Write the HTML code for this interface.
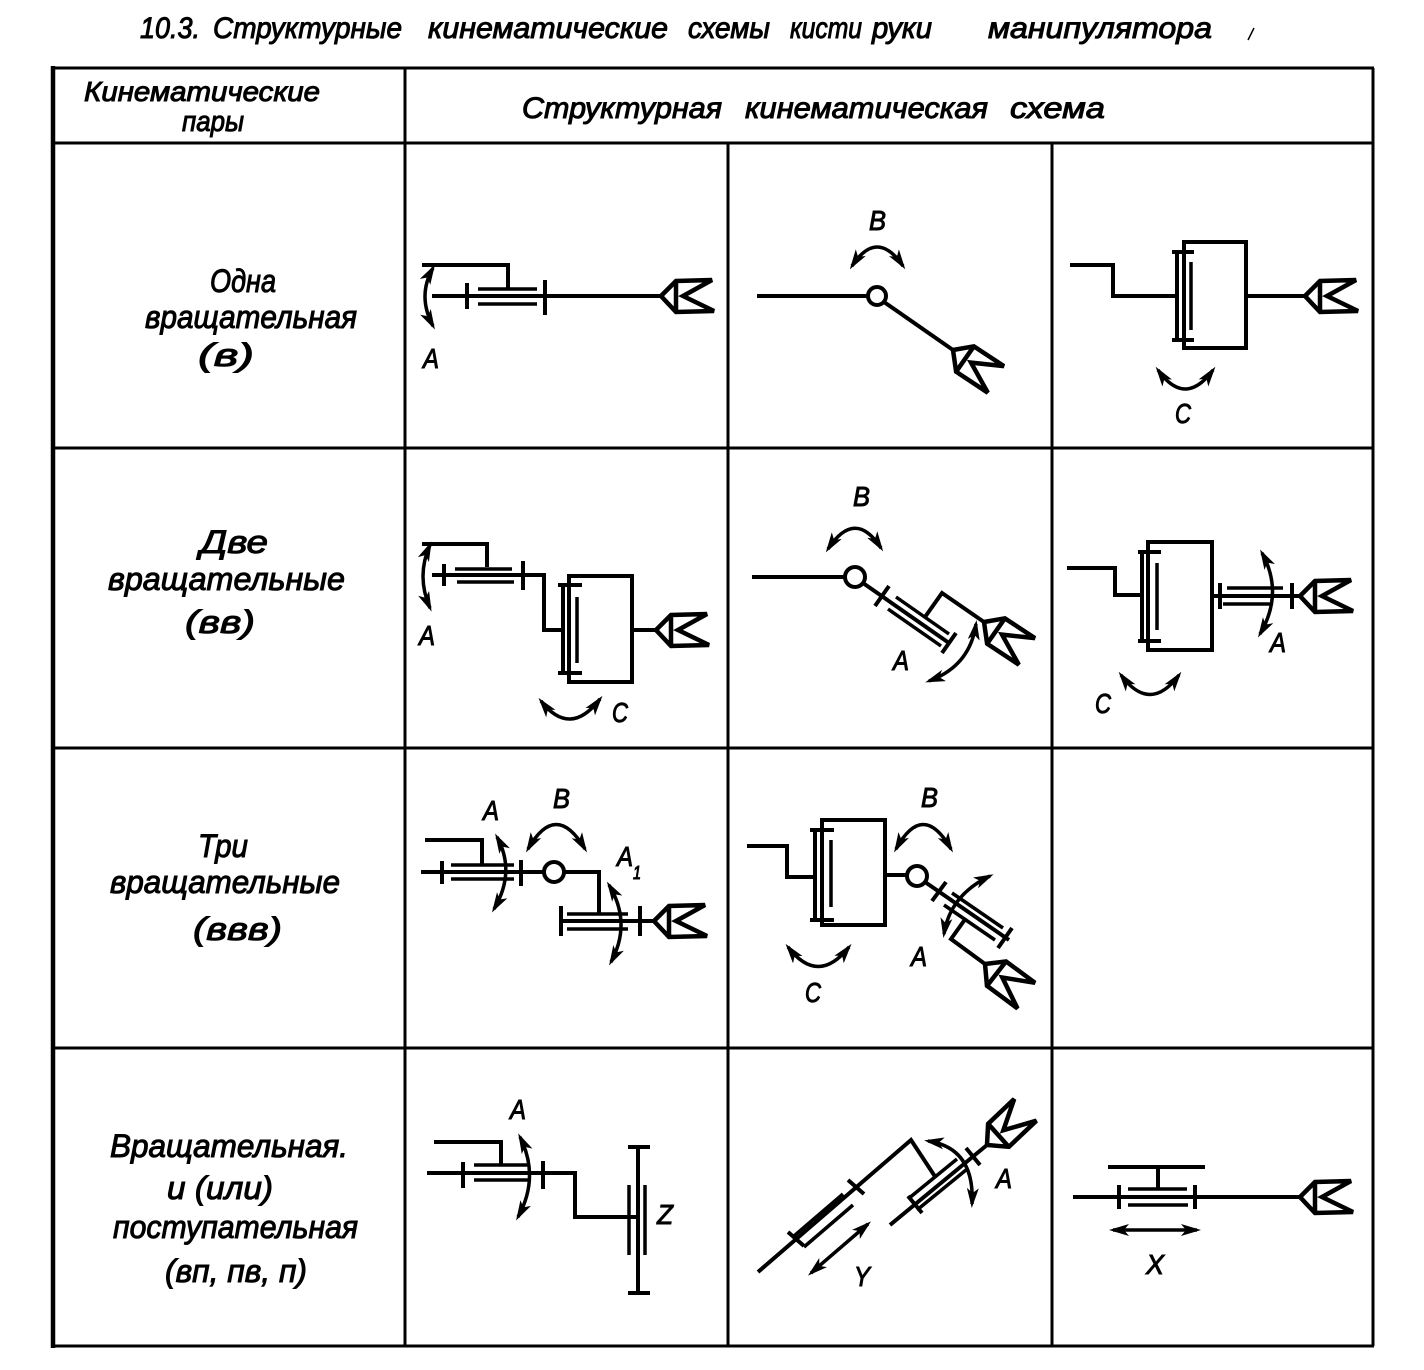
<!DOCTYPE html>
<html><head><meta charset="utf-8"><style>
html,body{margin:0;padding:0;background:#fff}
svg{display:block}
text{font-family:"Liberation Sans","Noto Sans CJK SC",sans-serif;font-style:italic;fill:#000;stroke:#000;stroke-width:1}
.t{stroke:#000;stroke-width:3;fill:none}
.m{stroke:#000;stroke-width:4;fill:none}
.s{stroke:#000;stroke-width:3.5;fill:none}
.a{stroke:#000;stroke-width:3.5;fill:none;marker-start:url(#ah);marker-end:url(#ah)}
.c{stroke:#000;stroke-width:4;fill:#fff}
.l{font-size:28px}
.r{font-size:32px}
</style></head><body>
<svg width="1424" height="1370" viewBox="0 0 1424 1370" xmlns="http://www.w3.org/2000/svg">
<defs>
<marker id="ah" viewBox="0 0 20 12" refX="16" refY="6" markerWidth="20" markerHeight="12" markerUnits="userSpaceOnUse" orient="auto-start-reverse">
<path d="M0,0 L20,6 L0,12 L5,6 Z" fill="#000"/>
</marker>
<g id="gr"><path d="M0,0 L15,-15 L51,-16 L22,0 L53,15 L15,16 Z M15,-15 L15,16" fill="none" stroke="#000" stroke-width="4.5" stroke-linejoin="miter"/></g>
</defs>
<rect width="1424" height="1370" fill="#fff"/>

<!-- Title -->
<text x="140" y="38" font-size="30" textLength="60" lengthAdjust="spacingAndGlyphs">10.3.</text>
<text x="213" y="38" font-size="30" textLength="189" lengthAdjust="spacingAndGlyphs">Структурные</text>
<text x="428" y="38" font-size="30" textLength="240" lengthAdjust="spacingAndGlyphs">кинематические</text>
<text x="688" y="38" font-size="30" textLength="82" lengthAdjust="spacingAndGlyphs">схемы</text>
<text x="790" y="38" font-size="30" textLength="72" lengthAdjust="spacingAndGlyphs">кисти</text>
<text x="872" y="38" font-size="30" textLength="60" lengthAdjust="spacingAndGlyphs">руки</text>
<text x="988" y="38" font-size="30" textLength="224" lengthAdjust="spacingAndGlyphs">манипулятора</text>
<path d="M1248,40 L1254,28" stroke="#000" stroke-width="1.5"/>

<!-- Table -->
<path class="t" d="M52,68 H1374 M52,143 H1374 M52,448 H1374 M52,748 H1374 M52,1048 H1374 M52,1346 H1374"/>
<path class="t" d="M405,68 V1346 M728,143 V1346 M1052,143 V1346 M1373,68 V1346"/>
<path stroke="#000" stroke-width="4.5" d="M53,66 V1348"/>

<!-- Header -->
<text x="84" y="101" font-size="28" textLength="236" lengthAdjust="spacingAndGlyphs">Кинематические</text>
<text x="182" y="131" font-size="29" textLength="62" lengthAdjust="spacingAndGlyphs">пары</text>
<text x="522" y="118" font-size="30" textLength="200" lengthAdjust="spacingAndGlyphs">Структурная</text>
<text x="745" y="118" font-size="30" textLength="243" lengthAdjust="spacingAndGlyphs">кинематическая</text>
<text x="1010" y="118" font-size="30" textLength="95" lengthAdjust="spacingAndGlyphs">схема</text>

<!-- Left column labels -->
<text class="r" x="210" y="292" textLength="66" lengthAdjust="spacingAndGlyphs">Одна</text>
<text class="r" x="145" y="328" textLength="212" lengthAdjust="spacingAndGlyphs">вращательная</text>
<text class="r" x="198" y="366" textLength="56" lengthAdjust="spacingAndGlyphs">(в)</text>

<text class="r" x="200" y="553" textLength="68" lengthAdjust="spacingAndGlyphs">Две</text>
<text class="r" x="108" y="590" textLength="237" lengthAdjust="spacingAndGlyphs">вращательные</text>
<text class="r" x="185" y="633" textLength="70" lengthAdjust="spacingAndGlyphs">(вв)</text>

<text class="r" x="198" y="857" textLength="50" lengthAdjust="spacingAndGlyphs">Три</text>
<text class="r" x="110" y="893" textLength="230" lengthAdjust="spacingAndGlyphs">вращательные</text>
<text class="r" x="193" y="940" textLength="89" lengthAdjust="spacingAndGlyphs">(ввв)</text>

<text class="r" x="110" y="1157" textLength="238" lengthAdjust="spacingAndGlyphs">Вращательная.</text>
<text class="r" x="167" y="1199" textLength="106" lengthAdjust="spacingAndGlyphs">и (или)</text>
<text class="r" x="113" y="1238" textLength="245" lengthAdjust="spacingAndGlyphs">поступательная</text>
<text class="r" x="165" y="1282" textLength="142" lengthAdjust="spacingAndGlyphs">(вп, пв, п)</text>

<!-- Row 1 col 1 -->
<path class="m" d="M422,265 H508 V288"/>
<path class="s" d="M478,289 H537 M478,304 H537"/>
<path class="m" d="M432,296 H661"/>
<path class="m" d="M467,283 V309 M545,280 V315"/>
<use href="#gr" transform="translate(661,296)"/>
<path class="a" d="M433,268 Q417,296 433,326"/>
<text class="l" x="423" y="368" textLength="16" lengthAdjust="spacingAndGlyphs">A</text>

<!-- Row 1 col 2 -->
<path class="m" d="M757,296 H868"/>
<path class="m" d="M884,302 L953,350"/>
<circle class="c" cx="877" cy="296" r="9"/>
<use href="#gr" transform="translate(953,350) rotate(35)"/>
<path class="a" d="M852,266 Q877,228 903,266"/>
<text class="l" x="869" y="230" textLength="17" lengthAdjust="spacingAndGlyphs">В</text>

<!-- Row 1 col 3 -->
<path class="m" d="M1070,265 H1113 V296 H1177"/>
<rect class="m" x="1184" y="242" width="62" height="106"/>
<path class="m" d="M1177,252 V340"/>
<path class="s" d="M1191,262 V330"/>
<path class="m" d="M1172,252 H1194 M1172,340 H1194"/>
<path class="m" d="M1246,296 H1305"/>
<use href="#gr" transform="translate(1305,296)"/>
<path class="a" d="M1158,370 Q1185,408 1213,370"/>
<text class="l" x="1175" y="423" textLength="16" lengthAdjust="spacingAndGlyphs">С</text>

<!-- Row 2 col 1 -->
<path class="m" d="M422,544 H487 V567"/>
<path class="s" d="M455,569 H512 M457,582 H514"/>
<path class="m" d="M432,575 H544 V630 H563"/>
<path class="m" d="M444,564 V586 M523,561 V590"/>
<rect class="m" x="569" y="576" width="63" height="106"/>
<path class="m" d="M563,585 V673"/>
<path class="s" d="M577,597 V663"/>
<path class="m" d="M558,585 H582 M558,673 H582"/>
<path class="m" d="M632,630 H656"/>
<use href="#gr" transform="translate(656,630)"/>
<path class="a" d="M430,545 Q416,576 430,608"/>
<text class="l" x="419" y="645" textLength="16" lengthAdjust="spacingAndGlyphs">A</text>
<path class="a" d="M541,701 Q570,738 600,699"/>
<text class="l" x="612" y="722" textLength="16" lengthAdjust="spacingAndGlyphs">С</text>

<!-- Row 2 col 2 -->
<path class="m" d="M752,577 H845"/>
<path class="m" d="M863,583 L949,643"/>
<circle class="c" cx="855" cy="577" r="10"/>
<path class="m" d="M875,606 L889,586 M942,653 L956,633"/>
<path class="s" d="M896,597 L949,634 M888,609 L941,646"/>
<path class="m" d="M925,617 L942,593 L984,622"/>
<use href="#gr" transform="translate(984,622) rotate(35)"/>
<path class="a" d="M828,549 Q855,508 881,548"/>
<text class="l" x="853" y="506" textLength="17" lengthAdjust="spacingAndGlyphs">В</text>
<path class="a" d="M976,624 Q970,666 929,681"/>
<text class="l" x="893" y="670" textLength="16" lengthAdjust="spacingAndGlyphs">A</text>

<!-- Row 2 col 3 -->
<path class="m" d="M1067,568 H1115 V595 H1142"/>
<rect class="m" x="1148" y="542" width="64" height="108"/>
<path class="m" d="M1142,552 V641"/>
<path class="s" d="M1157,563 V630"/>
<path class="m" d="M1138,552 H1161 M1138,641 H1161"/>
<path class="m" d="M1212,596 H1300"/>
<path class="s" d="M1227,588 H1283 M1223,604 H1272"/>
<path class="m" d="M1220,583 V609 M1292,583 V609"/>
<use href="#gr" transform="translate(1300,596)"/>
<path class="a" d="M1262,553 Q1284,593 1260,634"/>
<text class="l" x="1270" y="652" textLength="16" lengthAdjust="spacingAndGlyphs">A</text>
<path class="a" d="M1121,675 Q1150,714 1179,675"/>
<text class="l" x="1095" y="713" textLength="16" lengthAdjust="spacingAndGlyphs">С</text>

<!-- Row 3 col 1 -->
<path class="m" d="M425,840 H482 V864"/>
<path class="s" d="M451,865 H514 M451,879 H514"/>
<path class="m" d="M421,872 H544"/>
<path class="m" d="M442,861 V884 M521,860 V886"/>
<circle class="c" cx="554" cy="872" r="10"/>
<path class="m" d="M564,872 H599 V914"/>
<path class="s" d="M567,914 H628 M567,929 H628"/>
<path class="m" d="M560,921 H654"/>
<path class="m" d="M561,906 V936 M640,906 V936"/>
<use href="#gr" transform="translate(654,921)"/>
<path class="a" d="M497,837 Q516,872 494,909"/>
<text class="l" x="483" y="820" textLength="16" lengthAdjust="spacingAndGlyphs">A</text>
<path class="a" d="M528,849 Q556,800 585,849"/>
<text class="l" x="553" y="808" textLength="17" lengthAdjust="spacingAndGlyphs">В</text>
<path class="a" d="M609,885 Q632,923 611,962"/>
<text class="l" x="617" y="866" textLength="16" lengthAdjust="spacingAndGlyphs">A</text>
<text x="633" y="879" font-size="18" textLength="8" lengthAdjust="spacingAndGlyphs">1</text>

<!-- Row 3 col 2 -->
<path class="m" d="M747,846 H787 V877 H815"/>
<rect class="m" x="822" y="820" width="63" height="105"/>
<path class="m" d="M815,830 V920"/>
<path class="s" d="M831,840 V907"/>
<path class="m" d="M810,830 H834 M810,920 H834"/>
<path class="m" d="M885,875 H908"/>
<path class="m" d="M925,882 L1009,940"/>
<circle class="c" cx="917" cy="876" r="10"/>
<path class="m" d="M932,901 L946,882 M998,948 L1012,928"/>
<path class="s" d="M952,893 L1003,928 M944,905 L995,940"/>
<path class="m" d="M966,918 L951,939 L985,964"/>
<use href="#gr" transform="translate(985,964) rotate(38)"/>
<path class="a" d="M896,849 Q923,800 951,849"/>
<text class="l" x="921" y="807" textLength="17" lengthAdjust="spacingAndGlyphs">В</text>
<path class="a" d="M990,876 Q950,895 944,934"/>
<text class="l" x="911" y="966" textLength="16" lengthAdjust="spacingAndGlyphs">A</text>
<path class="a" d="M788,947 Q818,986 849,947"/>
<text class="l" x="805" y="1002" textLength="16" lengthAdjust="spacingAndGlyphs">С</text>

<!-- Row 4 col 1 -->
<path class="m" d="M434,1142 H501 V1165"/>
<path class="s" d="M474,1165 H530 M474,1180 H530"/>
<path class="m" d="M427,1173 H575 V1217 H638"/>
<path class="m" d="M463,1162 V1188 M543,1161 V1189"/>
<path class="a" d="M520,1137 Q540,1177 518,1217"/>
<text class="l" x="510" y="1119" textLength="16" lengthAdjust="spacingAndGlyphs">A</text>
<path class="m" d="M638,1147 V1293"/>
<path class="m" d="M628,1147 H650 M628,1293 H650"/>
<path class="s" d="M629,1185 V1255 M645,1185 V1255"/>
<text class="l" x="657" y="1224" textLength="16" lengthAdjust="spacingAndGlyphs">Z</text>

<!-- Row 4 col 2 -->
<path class="m" d="M758,1272 L911,1140 L936,1178"/>
<path class="m" d="M788,1232 L804,1246 M848,1180 L864,1194"/>
<path class="s" d="M794,1236 L843,1194 M804,1247 L853,1205"/>
<path class="m" d="M890,1225 L987,1145"/>
<path class="m" d="M908,1196 L922,1213 M966,1148 L980,1165"/>
<path class="s" d="M908,1199 L957,1159 M917,1210 L966,1170"/>
<use href="#gr" transform="translate(987,1145) rotate(-42)"/>
<path class="a" d="M928,1141 Q975,1148 972,1204"/>
<text class="l" x="996" y="1188" textLength="16" lengthAdjust="spacingAndGlyphs">A</text>
<path class="a" d="M811,1273 L868,1224"/>
<text class="l" x="854" y="1286" textLength="16" lengthAdjust="spacingAndGlyphs">Y</text>

<!-- Row 4 col 3 -->
<path class="m" d="M1108,1167 H1205 M1158,1167 V1189"/>
<path class="s" d="M1128,1189 H1187 M1128,1205 H1188"/>
<path class="m" d="M1073,1197 H1300"/>
<path class="m" d="M1119,1185 V1209 M1195,1185 V1209"/>
<use href="#gr" transform="translate(1300,1197)"/>
<path class="a" d="M1113,1230 H1197"/>
<text class="l" x="1146" y="1274" textLength="18" lengthAdjust="spacingAndGlyphs">X</text>
</svg>
</body></html>
